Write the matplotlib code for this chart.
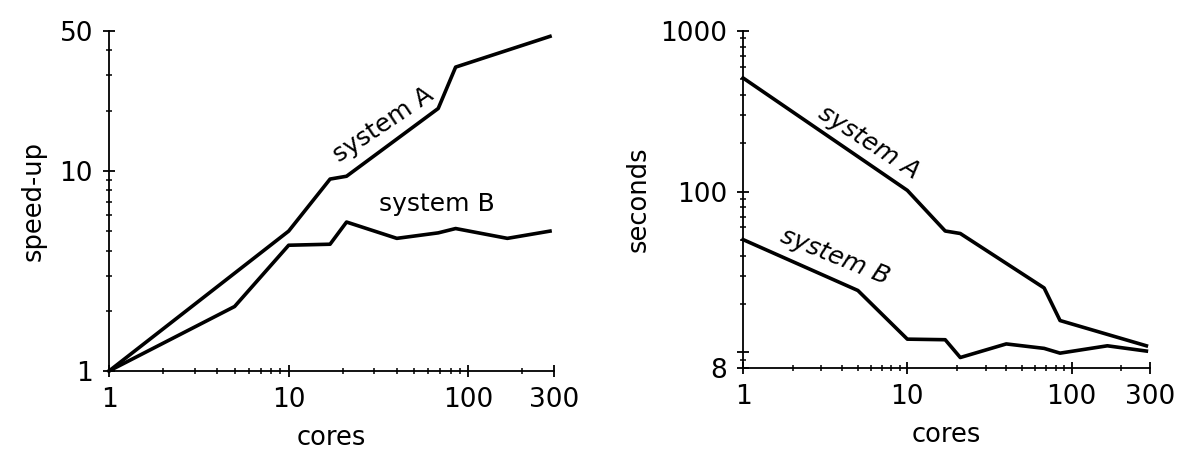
import matplotlib
matplotlib.use("Agg")
import matplotlib.pyplot as plt
import matplotlib.ticker as mt

# speed-up (left panel)
cores_a = [1, 10, 17, 21, 68, 85, 285]
speedup_a = [1, 5.0, 9.1, 9.4, 20.5, 33, 47]
cores_b = [1, 5, 10, 17, 21, 40, 68, 85, 165, 285]
speedup_b = [1, 2.1, 4.25, 4.3, 5.55, 4.6, 4.9, 5.15, 4.6, 5.0]

# run time in seconds (right panel)
time_a = [511, 102, 57, 55, 25.2, 15.8, 11.0]
time_b = [50.4, 24.3, 12.1, 12.0, 9.3, 11.3, 10.6, 9.9, 11.0, 10.2]

xticks = [1, 10, 100, 300]
xticklabels = ['1', '10', '100', '300']

plt.rcParams['font.family'] = 'DejaVu Sans'

fig = plt.figure(figsize=(11.8, 4.51), dpi=100)
ax1 = fig.add_axes([0.0924, 0.1774, 0.3771, 0.7539])
ax2 = fig.add_axes([0.6297, 0.184, 0.3449, 0.747])


def style(ax):
    ax.set_xscale('log')
    ax.set_yscale('log')
    for s in ['top', 'right']:
        ax.spines[s].set_visible(False)
    for s in ['left', 'bottom']:
        ax.spines[s].set_linewidth(1.3)
    ax.set_xlim(1, 300)
    ax.xaxis.set_major_locator(mt.FixedLocator(xticks))
    ax.xaxis.set_major_formatter(mt.FixedFormatter(xticklabels))
    ax.xaxis.set_minor_locator(mt.FixedLocator([2, 3, 4, 5, 6, 7, 8, 9, 20, 30, 40, 50, 60, 70, 80, 90, 200]))
    ax.xaxis.set_minor_formatter(mt.NullFormatter())
    ax.yaxis.set_minor_formatter(mt.NullFormatter())
    ax.tick_params(which='major', direction='inout', length=9, width=1.3, labelsize=19, pad=7)
    ax.tick_params(which='minor', direction='inout', length=5, width=1.1)
    ax.set_xlabel('cores', fontsize=18.5, labelpad=9)


style(ax1)
ax1.plot(cores_a, speedup_a, color='black', lw=2.6, clip_on=False)
ax1.plot(cores_b, speedup_b, color='black', lw=2.6, clip_on=False)
ax1.set_ylim(1, 50)
ax1.yaxis.set_major_locator(mt.FixedLocator([1, 10, 50]))
ax1.yaxis.set_major_formatter(mt.FixedFormatter(['1', '10', '50']))
ax1.yaxis.set_minor_locator(mt.FixedLocator([2, 3, 4, 5, 6, 7, 8, 9, 20, 30, 40]))
ax1.set_ylabel('speed-up', fontsize=18.5, labelpad=9)
ax1.text(33.6, 17, 'system A', fontsize=18, rotation=34, ha='center', va='center')
ax1.text(67, 6.84, 'system B', fontsize=18, ha='center', va='center')

style(ax2)
ax2.plot(cores_a, time_a, color='black', lw=2.6, clip_on=False)
ax2.plot(cores_b, time_b, color='black', lw=2.6, clip_on=False)
ax2.set_ylim(8, 1000)
ax2.yaxis.set_major_locator(mt.FixedLocator([8, 10, 100, 1000]))
ax2.yaxis.set_major_formatter(mt.FixedFormatter(['8', '', '100', '1000']))
ax2.yaxis.set_minor_locator(mt.FixedLocator([9, 20, 30, 40, 50, 60, 70, 80, 90,
                                             200, 300, 400, 500, 600, 700, 800, 900]))
ax2.set_ylabel('seconds', fontsize=18.5, labelpad=6)
ax2.text(5.8, 204, 'system A', fontsize=18, rotation=-33, style='italic',
         ha='center', va='center')
ax2.text(3.63, 39.3, 'system B', fontsize=18, rotation=-22, style='italic',
         ha='center', va='center')

fig.savefig('out.png', dpi=100)
